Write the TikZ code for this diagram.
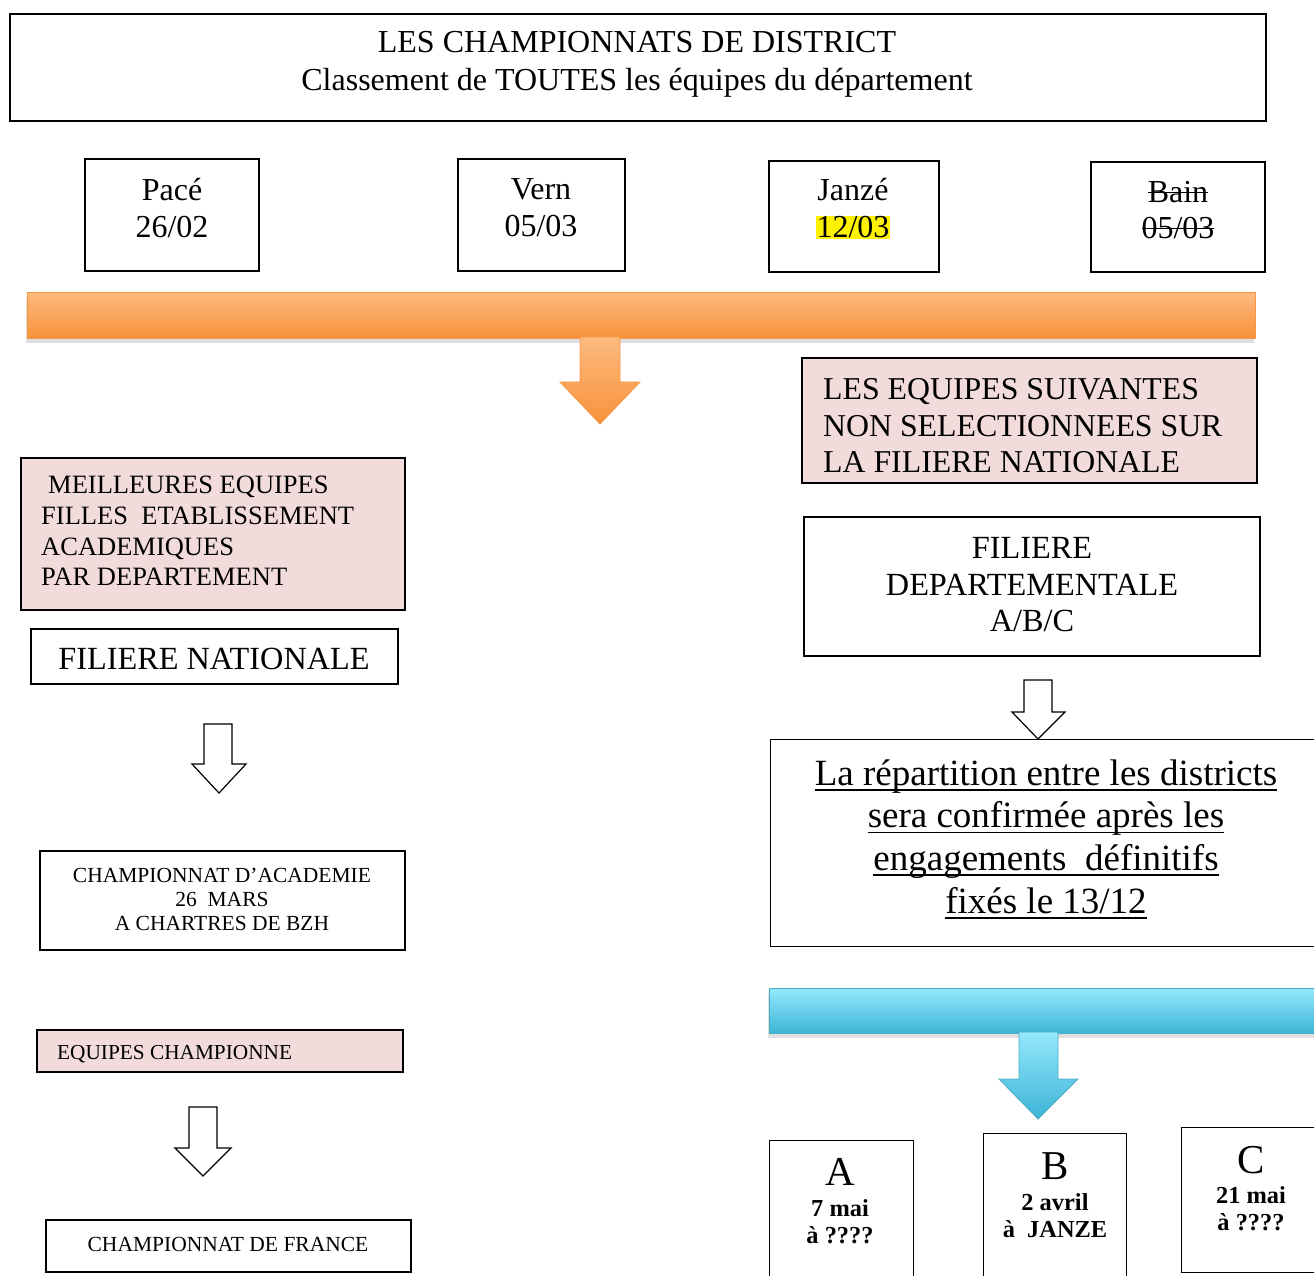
\documentclass[tikz,border=0pt]{standalone}
\usepackage{fontspec}
\setmainfont{Liberation Serif}
\newsavebox{\mystrikebox}
\newcommand{\mystrike}[1]{\sbox{\mystrikebox}{#1}\rlap{\rule[0.3em]{\wd\mystrikebox}{1.6pt}}\usebox{\mystrikebox}}
\newsavebox{\myulbox}
\newcommand{\myul}[1]{\sbox{\myulbox}{#1}\rlap{\rule[-0.15em]{\wd\myulbox}{1.6pt}}\usebox{\myulbox}}
\usetikzlibrary{shadows}
\definecolor{pinkfill}{HTML}{F2DCDB}
\definecolor{orTop}{HTML}{FDBA80}
\definecolor{orBot}{HTML}{F8923A}
\definecolor{orEdge}{HTML}{F79646}
\definecolor{blTop}{HTML}{95E8FC}
\definecolor{blBot}{HTML}{3CB4D6}
\definecolor{blEdge}{HTML}{4BACC6}
\begin{document}
\begin{tikzpicture}[x=1pt,y=-1pt,
  box/.style={draw=black, line width=1.3pt, inner sep=0pt, fill=white},
  pinkbox/.style={box, fill=pinkfill},
  txt/.style={inner sep=0pt, align=center},
  ltxt/.style={inner sep=0pt, align=left, anchor=west},
  hollow/.style={draw=black, line width=1.2pt, fill=white, line join=miter},
  orbar/.style={draw=orEdge, line width=0.8pt, top color=orTop, bottom color=orBot},
  blbar/.style={draw=blEdge, line width=0.8pt, top color=blTop, bottom color=blBot},
  bshadow/.style={drop shadow={shadow xshift=-1pt, shadow yshift=-5pt, opacity=0.25}}
]
\useasboundingbox (0,0) rectangle (1314,1275);
\begin{scope}
\clip (0,0) rectangle (1314,1275);

% title
\node[box, minimum width=1256pt, minimum height=107pt] (title) at (638,67.5) {};
\node[txt, font=\fontsize{32}{38}\selectfont] (titletext) at (637,64)
  {LES CHAMPIONNATS DE DISTRICT\\Classement de TOUTES les équipes du département};

% district boxes
\node[box, minimum width=174pt, minimum height=112pt] (pace) at (172,215) {};
\node[txt, font=\fontsize{32}{37}\selectfont] (pacetext) at (172,208) {Pacé\\26/02};
\node[box, minimum width=167pt, minimum height=112pt] (vern) at (541.5,215) {};
\node[txt, font=\fontsize{32}{37}\selectfont] (verntext) at (541,208) {Vern\\05/03};
\node[box, minimum width=170pt, minimum height=111pt] (janze) at (854,216.5) {};
\node[txt, font=\fontsize{32}{37}\selectfont] (janzetext) at (853,209)
  {Janzé\\{\setlength{\fboxsep}{1pt}\colorbox{yellow}{12/03}}};
\node[box, minimum width=174pt, minimum height=110pt] (bain) at (1178,217) {};
\node[txt, font=\fontsize{32}{36}\selectfont] (baintext) at (1178,210.5) {\mystrike{Bain}\\\mystrike{05/03}};

% orange bar and arrow
\node[orbar, bshadow, minimum width=1228pt, minimum height=46pt, inner sep=0pt] (orbar) at (641,315) {};
\path[orbar] (580,337) -- (580,382) -- (560,382) -- (600,424) -- (640,382) -- (620,382) -- (620,337) -- cycle;

% right column
\node[pinkbox, minimum width=455pt, minimum height=125pt] (rpink) at (1029.5,420.5) {};
\node[ltxt, font=\fontsize{31.8}{36.5}\selectfont] (rpinktext) at (823,426)
  {LES EQUIPES SUIVANTES\\NON SELECTIONNEES SUR\\LA FILIERE NATIONALE};
\node[box, minimum width=456pt, minimum height=139pt] (fildep) at (1032,586.5) {};
\node[txt, font=\fontsize{32.3}{36.5}\selectfont] (fildeptext) at (1032,585)
  {FILIERE\\DEPARTEMENTALE\\A/B/C};
\path[hollow] (1024,680) -- (1052,680) -- (1052,712) -- (1065,712) -- (1038,739) -- (1012,712) -- (1024,712) -- cycle;
\node[box, minimum width=560pt, minimum height=207pt, anchor=north west] (big) at (770,739) {};
\node[txt, font=\fontsize{37}{42.7}\selectfont] (bigtext) at (1046,839)
  {\myul{La répartition entre les districts}\\\myul{sera confirmée après les}\\\myul{engagements\ \ définitifs}\\\myul{fixés le 13/12}};

% blue bar and arrow
\node[blbar, bshadow, minimum width=580pt, minimum height=45pt, inner sep=0pt, anchor=north west] (blbar) at (769,988) {};
\path[blbar] (1019,1032) -- (1019,1079) -- (999,1079) -- (1038,1119) -- (1078,1079) -- (1058,1079) -- (1058,1032) -- cycle;

% A B C
\node[box, minimum width=144pt, minimum height=160pt, anchor=north west] (boxA) at (769,1140) {};
\node[txt, font=\fontsize{41}{44}\selectfont] (Aletter) at (840,1172) {A};
\node[txt, font=\fontsize{24.4}{27}\selectfont\bfseries] (Adate) at (840,1222) {7 mai\\à ????};
\node[box, minimum width=143pt, minimum height=170pt, anchor=north west] (boxB) at (983,1133) {};
\node[txt, font=\fontsize{41}{44}\selectfont] (Bletter) at (1055,1166) {B};
\node[txt, font=\fontsize{24.4}{27}\selectfont\bfseries] (Bdate) at (1055,1215.5) {2 avril\\à\ \ JANZE};
\node[box, minimum width=150pt, minimum height=145pt, anchor=north west] (boxC) at (1181,1127) {};
\node[txt, font=\fontsize{41}{44}\selectfont] (Cletter) at (1251,1160) {C};
\node[txt, font=\fontsize{24.4}{27}\selectfont\bfseries] (Cdate) at (1251,1209) {21 mai\\à ????};

% left column
\node[pinkbox, minimum width=384pt, minimum height=152pt] (lpink) at (213,534) {};
\node[ltxt, font=\fontsize{26.5}{30.7}\selectfont] (lpinktext) at (41,531)
  {\hspace*{7pt}MEILLEURES EQUIPES\\FILLES\ \ ETABLISSEMENT\\ACADEMIQUES\\PAR DEPARTEMENT};
\node[box, minimum width=367pt, minimum height=55pt] (filnat) at (214.5,656.5) {};
\node[txt, font=\fontsize{32.3}{36}\selectfont] (filnattext) at (214,659) {FILIERE NATIONALE};
\path[hollow] (204,724) -- (232,724) -- (232,764) -- (246,764) -- (219,793) -- (192,764) -- (204,764) -- cycle;
\node[box, minimum width=365pt, minimum height=99pt] (acad) at (222.5,900.5) {};
\node[txt, font=\fontsize{21.5}{24}\selectfont] (acadtext) at (222,899)
  {CHAMPIONNAT D’ACADEMIE\\26\ \ MARS\\A CHARTRES DE BZH};
\node[pinkbox, minimum width=366pt, minimum height=42pt] (eqch) at (220,1051) {};
\node[ltxt, font=\fontsize{21.3}{24}\selectfont] (eqchtext) at (57,1054) {EQUIPES CHAMPIONNE};
\path[hollow] (189,1107) -- (217,1107) -- (217,1148) -- (231,1148) -- (203,1176) -- (175,1148) -- (189,1148) -- cycle;
\node[box, minimum width=365pt, minimum height=52pt] (france) at (228.5,1246) {};
\node[txt, font=\fontsize{21.5}{24}\selectfont] (francetext) at (228,1244) {CHAMPIONNAT DE FRANCE};
\end{scope}
\end{tikzpicture}
\end{document}
